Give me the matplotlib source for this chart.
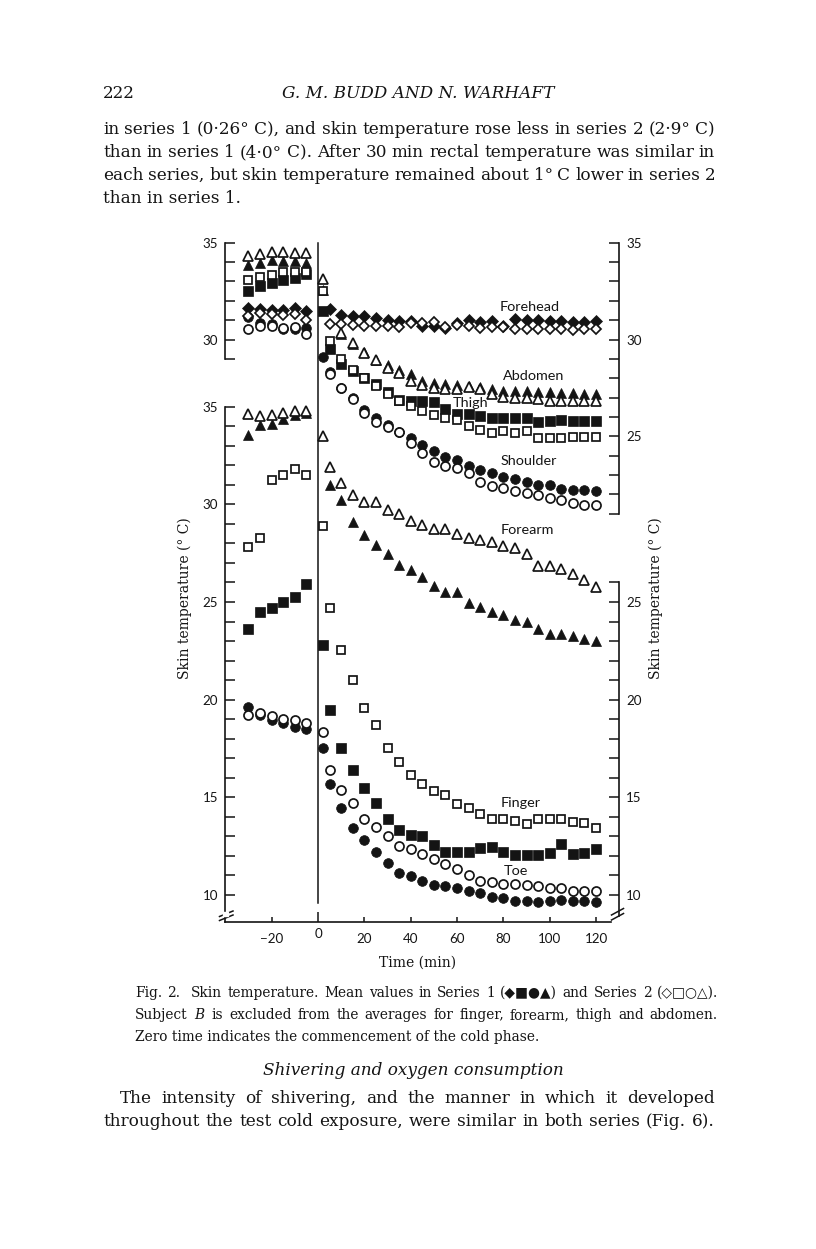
import numpy as np
import matplotlib
matplotlib.use('Agg')
import matplotlib.pyplot as plt

W, H = 816, 1249
nan = np.nan
plt.rcParams['mathtext.fontset'] = 'dejavuserif'

# time points (min)
t_pre = [-30, -25, -20, -15, -10, -5]
t_post = [2, 5, 10, 15, 20, 25, 30, 35, 40, 45, 50, 55, 60, 65, 70, 75, 80, 85,
          90, 95, 100, 105, 110, 115, 120]

# upper group (own scale): series 1 filled, series 2 open
forehead_1 = [31.65, 31.6, 31.55, 31.55, 31.65, 31.5,
              nan, 31.6, 31.25, 31.2, 31.2, 31.1, 31.0, 30.95, 30.95, 30.7, 30.7, 30.6,
              30.85, 31.0, 30.9, 30.95, 30.7, 31.05, 31.0, 31.0, 30.95, 30.95, 30.9, 30.9, 30.95]
forehead_2 = [31.2, 31.35, 31.3, 31.25, 31.3, 31.0,
              nan, 30.8, 30.8, 30.75, 30.7, 30.7, 30.7, 30.65, 30.85, 30.85, 30.9, 30.65,
              30.75, 30.7, 30.6, 30.65, 30.65, 30.55, 30.55, 30.55, 30.55, 30.55, 30.5, 30.55, 30.55]
abdomen_1 = [33.85, 33.95, 34.1, 34.05, 34.05, 33.95,
             32.55, nan, 30.3, 29.75, 29.35, 28.95, 28.7, 28.45, 28.2, 27.85, 27.75, 27.7,
             27.65, 27.6, 27.55, 27.45, 27.35, 27.35, 27.35, 27.3, 27.3, 27.25, 27.25, 27.2, 27.2]
abdomen_2 = [34.3, 34.4, 34.5, 34.5, 34.45, 34.45,
             33.15, nan, 30.35, 29.8, 29.3, 28.95, 28.55, 28.25, 27.85, 27.65, 27.5, 27.45,
             27.45, 27.55, 27.45, 27.2, 27.05, 27.0, 27.0, 26.95, 26.85, 26.8, 26.8, 26.8, 26.8]
thigh_1 = [32.5, 32.75, 32.9, 33.1, 33.2, 33.4,
           31.5, 29.5, 28.75, 28.35, 28.0, 27.7, 27.3, 26.9, 26.8, 26.8, 26.75, 26.4,
           26.15, 26.15, 26.05, 25.95, 25.95, 25.95, 25.95, 25.75, 25.8, 25.85, 25.8, 25.8, 25.8]
thigh_2 = [33.1, 33.25, 33.35, 33.5, 33.5, 33.5,
           32.5, 29.9, 29.0, 28.45, 28.0, 27.6, 27.2, 26.8, 26.55, 26.3, 26.1, 25.95,
           25.85, 25.55, 25.3, 25.15, 25.25, 25.15, 25.25, 24.9, 24.9, 24.9, 24.95, 24.95, 24.95]
shoulder_1 = [31.15, 30.85, 30.8, 30.55, 30.55, 30.6,
              29.1, 28.3, 27.5, 27.0, 26.35, 25.95, 25.6, 25.2, 24.9, 24.55, 24.25, 23.95,
              23.8, 23.45, 23.25, 23.1, 22.9, 22.8, 22.65, 22.5, 22.5, 22.3, 22.2, 22.2, 22.15]
shoulder_2 = [30.55, 30.7, 30.7, 30.6, 30.65, 30.3,
              nan, 28.2, 27.5, 26.95, 26.2, 25.75, 25.5, 25.2, 24.65, 24.15, 23.65, 23.45,
              23.35, 23.1, 22.65, 22.45, 22.35, 22.15, 22.05, 21.95, 21.8, 21.7, 21.55, 21.45, 21.45]

# lower group (own scale)
forearm_1 = [33.55, 34.05, 34.1, 34.35, 34.55, 34.7,
             nan, 31.0, 30.2, 29.1, 28.45, 27.9, 27.45, 26.9, 26.65, 26.3, 25.8, 25.5,
             25.5, 24.95, 24.75, 24.5, 24.35, 24.1, 24.0, 23.6, 23.35, 23.35, 23.25, 23.1, 23.0]
forearm_2 = [34.65, 34.5, 34.55, 34.7, 34.8, 34.8,
             33.5, 31.9, 31.1, 30.5, 30.1, 30.1, 29.7, 29.5, 29.15, 28.95, 28.75, 28.75,
             28.5, 28.3, 28.2, 28.05, 27.85, 27.75, 27.45, 26.85, 26.85, 26.7, 26.45, 26.15, 25.75]
finger_1 = [23.6, 24.5, 24.7, 25.0, 25.25, 25.9,
            22.8, 19.45, 17.55, 16.4, 15.5, 14.7, 13.9, 13.35, 13.05, 13.0, 12.55, 12.2,
            12.2, 12.2, 12.4, 12.45, 12.2, 12.05, 12.05, 12.05, 12.15, 12.6, 12.1, 12.15, 12.35]
finger_2 = [27.8, 28.3, 31.25, 31.5, 31.8, 31.5,
            28.9, 24.7, 22.55, 21.0, 19.55, 18.7, 17.55, 16.8, 16.15, 15.7, 15.3, 15.1,
            14.65, 14.45, 14.15, 13.9, 13.9, 13.8, 13.65, 13.9, 13.9, 13.9, 13.75, 13.7, 13.45]
toe_1 = [19.6, 19.2, 18.95, 18.8, 18.6, 18.5,
         17.55, 15.7, 14.45, 13.45, 12.8, 12.2, 11.65, 11.15, 10.95, 10.7, 10.5, 10.45,
         10.35, 10.2, 10.1, 9.9, 9.85, 9.7, 9.7, 9.65, 9.7, 9.75, 9.7, 9.7, 9.65]
toe_2 = [19.2, 19.3, 19.15, 19.0, 18.95, 18.8,
         18.35, 16.4, 15.4, 14.7, 13.9, 13.5, 13.0, 12.5, 12.35, 12.1, 11.85, 11.6,
         11.35, 11.0, 10.7, 10.65, 10.55, 10.55, 10.5, 10.45, 10.35, 10.35, 10.2, 10.2, 10.2]

x_ticks = [-20, 20, 40, 60, 80, 100, 120]
x_labels = ['\u221220', '20', '40', '60', '80', '100', '120']

ink = '#141414'
times = t_pre + t_post

fig = plt.figure(figsize=(W / 100, H / 100), dpi=100)

# pixel frame of the plot on the page
px_l, px_r, px_b, px_t = 225, 619.3, 921.7, 235
rect = [px_l / W, 1 - px_b / H, (px_r - px_l) / W, (px_b - px_t) / H]

axA = fig.add_axes(rect)                    # lower scale: forearm, finger, toe
axB = fig.add_axes(rect, facecolor='none')  # upper scale: forehead ... shoulder
for ax in (axA, axB):
    ax.set_xlim(-40.14, 130.04)
axA.set_ylim(8.633, 43.79)
axB.set_ylim(-0.085, 35.403)

mk = {'D': 6.0, 's': 6.9, 'o': 7.0, '^': 7.6}


def draw(ax, vals, m, filled):
    if filled:
        ax.plot(times, vals, ls='none', marker=m, ms=mk[m], mfc=ink, mec=ink,
                mew=0.5, clip_on=False, zorder=3)
    else:
        ax.plot(times, vals, ls='none', marker=m, ms=mk[m] - 0.5, mfc='white',
                mec=ink, mew=1.25, clip_on=False, zorder=4)


for vals, m, f in [(forehead_1, 'D', True), (forehead_2, 'D', False),
                   (abdomen_1, '^', True), (abdomen_2, '^', False),
                   (thigh_1, 's', True), (thigh_2, 's', False),
                   (shoulder_1, 'o', True), (shoulder_2, 'o', False)]:
    draw(axB, vals, m, f)
for vals, m, f in [(forearm_1, '^', True), (forearm_2, '^', False),
                   (finger_1, 's', True), (finger_2, 's', False),
                   (toe_1, 'o', True), (toe_2, 'o', False)]:
    draw(axA, vals, m, f)

# zero-time line
axA.axvline(0, ymin=(px_b - 903) / (px_b - px_t), ymax=(px_b - 243) / (px_b - px_t),
            color=ink, lw=1.1, zorder=2)

# spines
for ax in (axA, axB):
    ax.spines['top'].set_visible(False)
    for s in ax.spines.values():
        s.set_linewidth(1.2)
        s.set_color(ink)
axB.spines['bottom'].set_visible(False)
axA.spines['left'].set_bounds(8.633, 35)
axA.spines['right'].set_bounds(8.9, 26)
axA.spines['bottom'].set_bounds(-40.14, 126.5)
axB.spines['left'].set_bounds(29, 35)
axB.spines['right'].set_bounds(21, 35)

tick_font = dict(family='Lato', size=9.6, color=ink)
axA.set_yticks(list(range(10, 36)))
axA.set_yticklabels([str(v) if v % 5 == 0 else '' for v in range(10, 36)], **tick_font)
axB.set_yticks(list(range(21, 36)))
axB.set_yticklabels([str(v) if v % 5 == 0 else '' for v in range(21, 36)], **tick_font)
for ax in (axA, axB):
    ax.tick_params(axis='y', which='both', direction='in', length=7, width=1.1,
                   color=ink, left=True, right=True, labelleft=True, labelright=True,
                   pad=5)
# right spine of the lower scale only carries 10-26; left of upper only 29-35
for tk, v in zip(axA.yaxis.get_major_ticks(), range(10, 36)):
    if v > 26:
        tk.tick2line.set_visible(False)
        tk.label2.set_visible(False)
for tk, v in zip(axB.yaxis.get_major_ticks(), range(21, 36)):
    if v < 29:
        tk.tick1line.set_visible(False)
        tk.label1.set_visible(False)

axA.set_xticks(x_ticks)
axA.set_xticklabels(x_labels, **tick_font)
axA.set_xticks([0], minor=True)
axA.set_xticklabels(['0'], minor=True, **tick_font)
axA.tick_params(axis='x', which='major', direction='in', length=3.8, width=1.1,
                color=ink, pad=8)
axA.tick_params(axis='x', which='minor', direction='in', length=7.5, width=1.1,
                color=ink, pad=4.5)
axB.set_xticks([])


# break marks on the axes
def brk(x0, y0, x1, y1):
    fig.add_artist(plt.Line2D([x0 / W, x1 / W], [1 - y0 / H, 1 - y1 / H],
                              color=ink, lw=1.1))


fig.add_artist(plt.Rectangle((223 / W, 1 - 916 / H), 5 / W, 4 / H,
                             color='white', zorder=5))
brk(219.5, 916.5, 233, 911)
brk(219.5, 920.5, 233, 915)
brk(611.5, 915, 623.5, 908.5)
brk(611.5, 920, 623.5, 913.5)

# curve labels
lab = dict(family='Lato', size=10.4, color=ink, va='center', ha='left')
axB.text(78.5, 31.7, 'Forehead', **lab)
axB.text(79.8, 28.13, 'Abdomen', **lab)
axB.text(58.3, 26.72, 'Thigh', **lab)
axB.text(79.0, 23.72, 'Shoulder', **lab)
axA.text(79.0, 28.69, 'Forearm', **lab)
axA.text(79.0, 14.71, 'Finger', **lab)
axA.text(80.0, 11.23, 'Toe', **lab)

serif = ['DejaVu Serif']
fig.text(185 / W, 1 - 598 / H, 'Skin temperature (° C)', rotation=90, ha='center',
         va='center', family=serif, size=10.0, color=ink)
fig.text(656 / W, 1 - 598 / H, 'Skin temperature (° C)', rotation=90, ha='center',
         va='center', family=serif, size=10.0, color=ink)
fig.text(418 / W, 1 - 963 / H, 'Time (min)', ha='center', va='center',
         family=serif, size=10.0, color=ink)

# page text
renderer = fig.canvas.get_renderer()


def justify(text, x0, x1, yb, **kw):
    words = text.split(' ')
    tmp = [fig.text(0, 0, w, **kw) for w in words]
    widths = [t.get_window_extent(renderer).width for t in tmp]
    for t in tmp:
        t.remove()
    gap = (x1 - x0 - sum(widths)) / (len(words) - 1)
    x = x0
    for w, wd in zip(words, widths):
        fig.text(x / W, 1 - yb / H, w, va='baseline', ha='left', **kw)
        x += wd + gap


body = dict(family=serif, size=12.2, color=ink)
fig.text(103 / W, 1 - 98 / H, '222', va='baseline', **body)
fig.text(418 / W, 1 - 98 / H, 'G. M. BUDD AND N. WARHAFT', va='baseline', ha='center',
         style='italic', **body)
justify('in series 1 (0·26° C), and skin temperature rose less in series 2 (2·9° C)',
        103, 715, 134, **body)
justify('than in series 1 (4·0° C). After 30 min rectal temperature was similar in',
        103, 715, 157, **body)
justify('each series, but skin temperature remained about 1° C lower in series 2',
        103, 715, 180, **body)
fig.text(103 / W, 1 - 203 / H, 'than in series 1.', va='baseline', **body)

cap = dict(family=['DejaVu Serif', 'DejaVu Sans'], size=9.9, color=ink)
justify('Fig. 2.  Skin temperature. Mean values in Series 1 (◆■●▲) and Series 2 (◇□○△).',
        135, 718, 997, **cap)
justify('Subject $B$ is excluded from the averages for finger, forearm, thigh and abdomen.',
        135, 718, 1019, **cap)
fig.text(135 / W, 1 - 1041 / H, 'Zero time indicates the commencement of the cold phase.',
         va='baseline', **cap)

fig.text(413 / W, 1 - 1075 / H, 'Shivering and oxygen consumption', ha='center',
         va='baseline', style='italic', **body)
justify('The intensity of shivering, and the manner in which it developed',
        120, 715, 1103, **body)
justify('throughout the test cold exposure, were similar in both series (Fig. 6).',
        103, 715, 1126, **body)

fig.savefig('out.png', dpi=100)
